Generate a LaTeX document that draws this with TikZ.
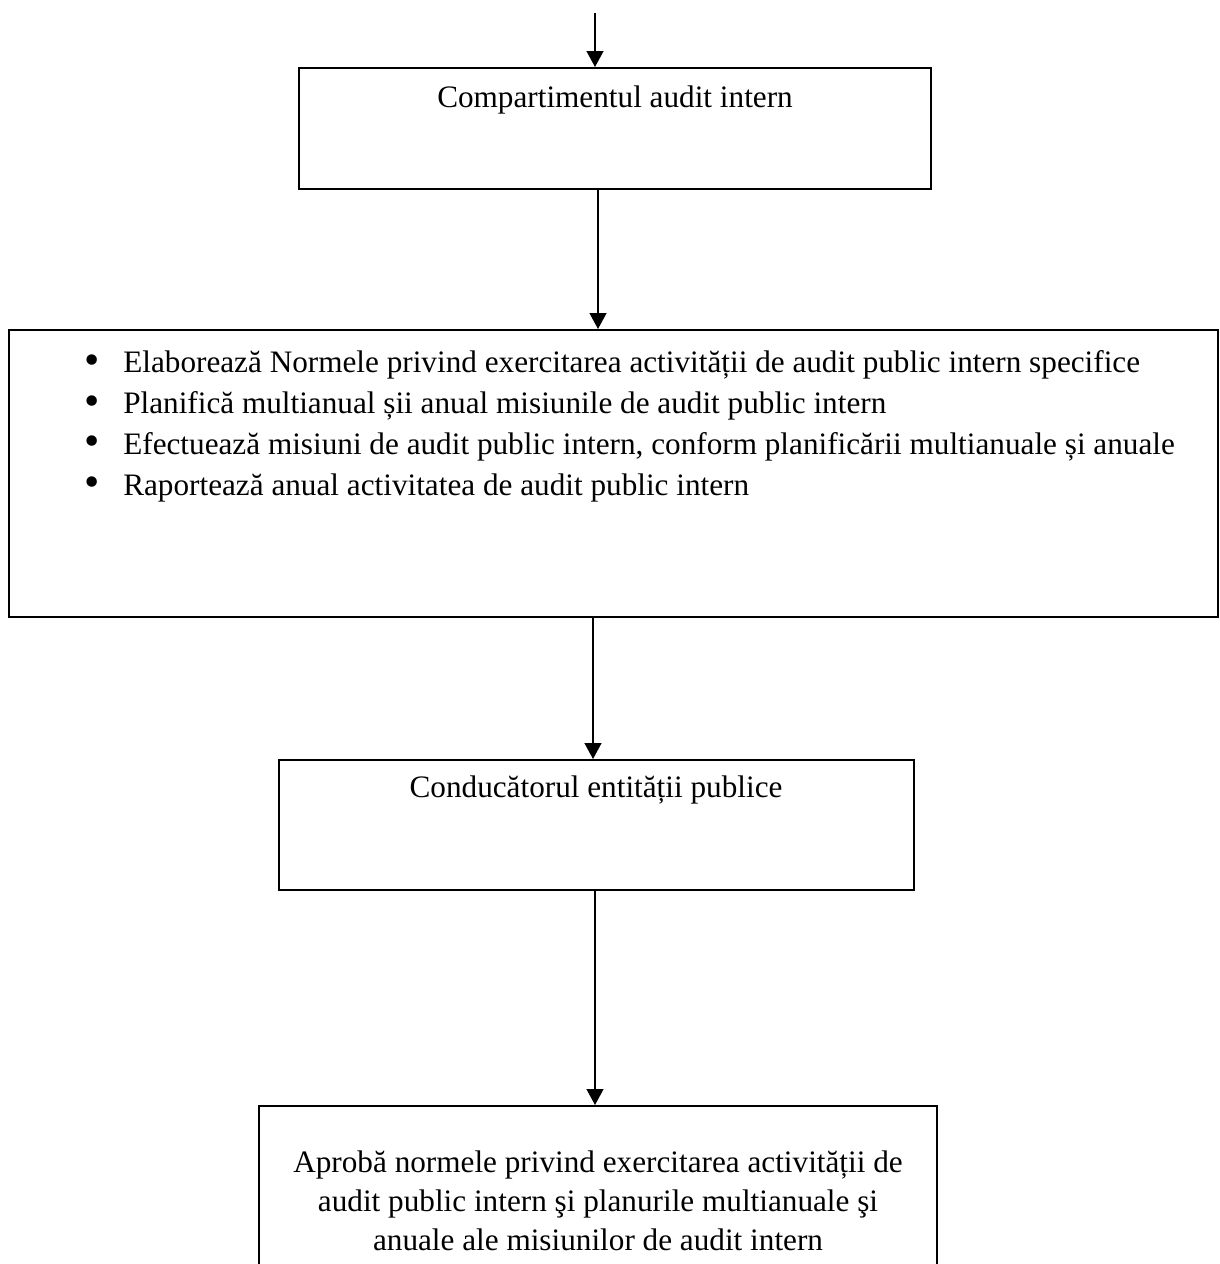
\documentclass[tikz,border=0pt]{standalone}
\usepackage{fontspec}
\setmainfont{Liberation Serif}
\usetikzlibrary{arrows.meta, positioning, fit}

\tikzset{
  box/.style={draw, line width=1.4pt, inner sep=0pt},
  boxtext/.style={font=\fontsize{22.2pt}{1.0175cm}\selectfont, inner sep=0pt},
  flow/.style={-{Triangle[length=0.4cm, width=0.42cm]}, line width=1.4pt},
}
\newcommand{\taskbullet}{\llap{\raisebox{-0.04cm}{\scalebox{1.4}{\textbullet}}\hspace{0.58cm}}}

\begin{document}
\begin{tikzpicture}[x=0.025cm, y=-0.025cm]
  \clip (0,0) rectangle (1220,1264);
  \fill[white] (0,0) rectangle (1220,1264);

  % casete
  \node[box, fit={(299,68) (931,189)}] (comp) {};
  \node[box, fit={(9,330) (1218,617)}] (tasks) {};
  \node[box, fit={(279,760) (914,890)}] (lead) {};
  \node[box, fit={(259,1106) (937,1300)}] (approve) {};

  % texte (base = ultimul rand)
  \node[boxtext, anchor=base] (compText) at (615,107) {Compartimentul audit intern};
  \node[boxtext, anchor=base west, align=left] (tasksText) at (123,495) {%
    \taskbullet Elaborează Normele privind exercitarea activității de audit public intern specifice\\
    \taskbullet Planifică multianual șii anual misiunile de audit public intern\\
    \taskbullet Efectuează misiuni de audit public intern, conform planificării multianuale și anuale\\
    \taskbullet Raportează anual activitatea de audit public intern};
  \node[boxtext, anchor=base] (leadText) at (596,797) {Conducătorul entității publice};
  \node[boxtext, anchor=base, align=center,
        font=\fontsize{22.2pt}{0.9625cm}\selectfont] (approveText) at (598,1250) {%
    Aprobă normele privind exercitarea activității de\\
    audit public intern şi planurile multianuale şi\\
    anuale ale misiunilor de audit intern};

  % sageti
  \coordinate (entry) at (595,13);
  \draw[flow] (entry) -- (comp.north -| entry);
  \draw[flow] (comp.south -| 598,0) -- (tasks.north -| 598,0);
  \draw[flow] (tasks.south -| 593,0) -- (lead.north -| 593,0);
  \draw[flow] (lead.south -| 595,0) -- (approve.north -| 595,0);
\end{tikzpicture}
\end{document}
